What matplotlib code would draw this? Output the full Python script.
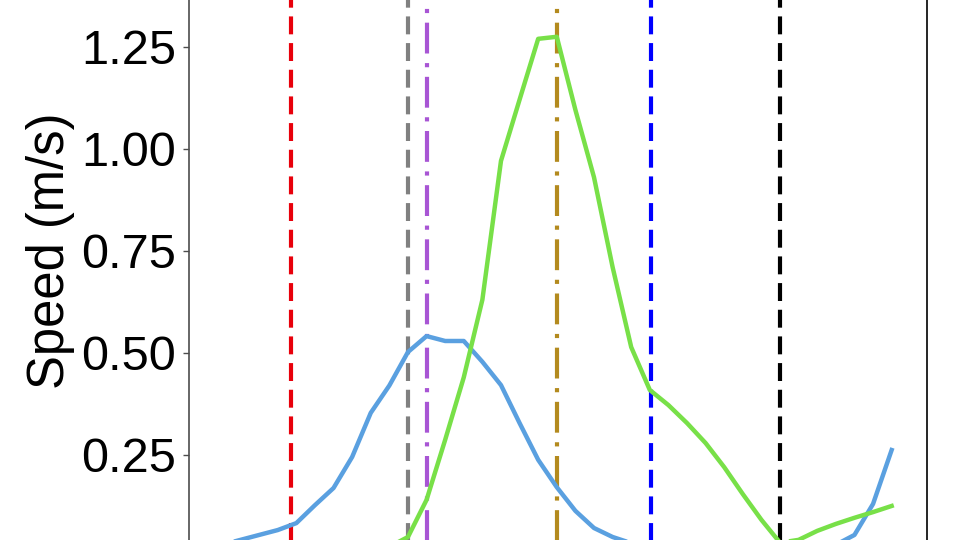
import numpy as np
import matplotlib
matplotlib.use('Agg')
import matplotlib.pyplot as plt

plt.rcParams['font.family'] = ['Liberation Sans', 'DejaVu Sans']

# frame index of every sample
frames = np.arange(0, 38)

# speed of the two tracked points (m/s)
speed_blue = [0.01, 0.03, 0.042, 0.054, 0.066, 0.083, 0.127, 0.169, 0.245, 0.353,
              0.42, 0.502, 0.541, 0.529, 0.529, 0.478, 0.421, 0.328, 0.238, 0.171,
              0.113, 0.071, 0.049, 0.034, 0.02, 0.012, 0.008, 0.006, 0.005, 0.005,
              0.006, 0.008, 0.012, 0.02, 0.03, 0.054, 0.13, 0.262]
speed_green = [0.0, 0.0, 0.0, 0.0, 0.0, 0.0, 0.002, 0.005, 0.01, 0.015,
               0.025, 0.049, 0.14, 0.287, 0.44, 0.63, 0.97, 1.12, 1.269, 1.274,
               1.095, 0.93, 0.71, 0.514, 0.409, 0.372, 0.328, 0.279, 0.22, 0.154,
               0.091, 0.035, 0.042, 0.064, 0.081, 0.096, 0.11, 0.125]

# event markers (frame positions)
event_frames = [4.72, 11.0, 12.0, 19.0, 24.05, 31.0]
event_colors = ['#e8000b', '#808080', '#a855d4', '#b38a1e', '#0000ff', '#000000']
event_styles = ['dash', 'dash', 'dashdot', 'dashdot', 'dash', 'dash']

fig = plt.figure(figsize=(9.6, 5.4), dpi=100)
ax = fig.add_axes([189 / 960, -0.0693, 738 / 960, 1.2099])

for xf, col, st in zip(event_frames, event_colors, event_styles):
    if st == 'dash':
        ax.axvline(xf, color=col, lw=3, dashes=(4.3, 2.1), zorder=1)
    else:
        ax.axvline(xf, color=col, lw=3, dashes=(7.4, 2.3, 1.0, 2.3), zorder=1)

ax.plot(frames, speed_blue, color='#5aa0e0', lw=3.2, zorder=2)
ax.plot(frames, speed_green, color='#78e048', lw=3.2, zorder=3)

ax.set_xlim(-0.77, 38.9)
ax.set_ylim(-0.05, 1.55)
ax.set_yticks([0.0, 0.25, 0.5, 0.75, 1.0, 1.25])
ax.set_yticklabels(['0.00', '0.25', '0.50', '0.75', '1.00', '1.25'])
ax.set_xticks([])
ax.tick_params(axis='y', labelsize=35, length=4.5, width=1, color='#4d4d4d', pad=5)
ax.set_ylabel('Speed (m/s)', fontsize=36.5, labelpad=4)

ax.spines['left'].set_color('#4d4d4d')
ax.spines['left'].set_linewidth(1.2)
ax.spines['right'].set_color('black')
ax.spines['right'].set_linewidth(1.2)

fig.savefig('out.png', dpi=100)
